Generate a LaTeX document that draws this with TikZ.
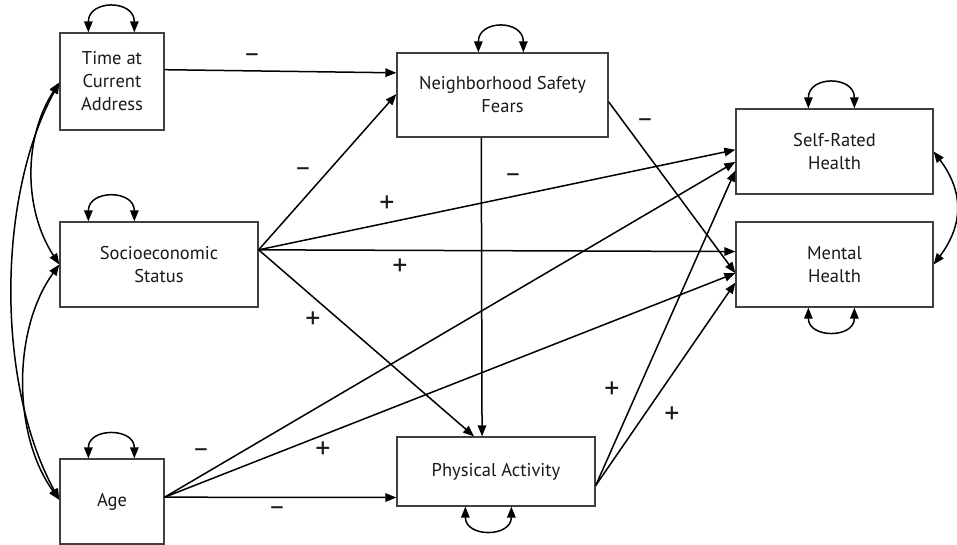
\documentclass[tikz,border=0pt]{standalone}
\usepackage{fontspec}
\setmainfont{PT Sans}
\usetikzlibrary{arrows.meta,calc}
\begin{document}
\begin{tikzpicture}[x=1pt,y=-1pt,
  box/.style={draw=black!75, line width=1.3pt, inner sep=0pt, align=center,
    font=\fontsize{18.5}{23}\selectfont, text=black!90},
  tip/.tip={Triangle[length=11pt,width=8.5pt]},
  arr/.style={-tip, line width=1.5pt},
  dbl/.style={tip-tip, line width=1.5pt},
  sgn/.style={font=\fontsize{30}{32}\selectfont, inner sep=0pt, text=black!90},
  msgn/.style={font=\fontsize{27}{30}\selectfont, inner sep=0pt, text=black!90}]
\useasboundingbox (0,0) rectangle (957,545);

% boxes
\node[box, minimum width=104pt, minimum height=97pt] (t) at (112,81.5) {Time at\\Current\\Address};
\node[box, minimum width=198pt, minimum height=85pt] (s) at (159,264.5) {Socioeconomic\\Status};
\node[box, minimum width=104pt, minimum height=85pt] (a) at (112,501.5) {Age};
\node[box, minimum width=211pt, minimum height=84pt] (n) at (502.5,95) {Neighborhood Safety\\Fears};
\node[box, minimum width=197pt, minimum height=85pt] (h) at (834.5,151.5) {Self-Rated\\Health};
\node[box, minimum width=197pt, minimum height=85pt] (m) at (834.5,264.5) {Mental\\Health};
\node[box, minimum width=198pt, minimum height=69pt] (p) at (496,471.5) {Physical Activity};

% self loops (variances)
\draw[dbl] ($(t.north west)+(29,0)$) .. controls +(0,-33) and +(0,-33) .. ($(t.north west)+(75,0)$);
\draw[dbl] ($(s.north west)+(29,0)$) .. controls +(0,-32) and +(0,-32) .. ($(s.north west)+(75,0)$);
\draw[dbl] ($(a.north west)+(29,0)$) .. controls +(0,-31) and +(0,-31) .. ($(a.north west)+(75,0)$);
\draw[dbl] ($(n.north west)+(82,0)$) .. controls +(0,-33) and +(0,-33) .. ($(n.north west)+(127,0)$);
\draw[dbl] ($(h.north west)+(73,0)$) .. controls +(0,-33) and +(0,-33) .. ($(h.north west)+(119,0)$);
\draw[dbl] ($(m.south west)+(73,0)$) .. controls +(0,31) and +(0,31) .. ($(m.south west)+(119,0)$);
\draw[dbl] ($(p.south west)+(69,0)$) .. controls +(0,31) and +(0,31) .. ($(p.south west)+(115,0)$);

% covariances
\coordinate (tl) at ($(t.north west)!0.51!(t.south west)$);
\coordinate (sl) at ($(s.north west)!0.5!(s.south west)$);
\coordinate (al) at ($(a.north west)!0.48!(a.south west)$);
\draw[dbl] (tl) .. controls +(-36,55) and +(-36,-55) .. (sl);
\draw[dbl] (sl) .. controls +(-47,65) and +(-47,-65) .. (al);
\draw[dbl] (tl) .. controls +(-63,115) and +(-63,-115) .. (al);
\draw[dbl] ($(h.north east)!0.5!(h.south east)$) .. controls +(30,40) and +(30,-40) .. ($(m.north east)!0.5!(m.south east)$);

% paths
\coordinate (se) at ($(s.north east)!0.33!(s.south east)$);
\coordinate (ae) at ($(a.north east)!0.45!(a.south east)$);
\coordinate (pe) at ($(p.north east)!0.70!(p.south east)$);
\draw[arr] ($(t.north east)!0.38!(t.south east)$) -- ($(n.north west)!0.24!(n.south west)$);
\draw[arr] (se) -- ($(n.north west)!0.49!(n.south west)$);
\draw[arr] (se) -- ($(h.north west)!0.48!(h.south west)$);
\draw[arr] (se) -- ($(m.north west)!0.35!(m.south west)$);
\draw[arr] (se) -- ($(p.north west)!0.39!(p.north east)$);
\draw[arr] ($(n.south west)!0.40!(n.south east)$) -- ($(p.north west)!0.43!(p.north east)$);
\draw[arr] ($(n.north east)!0.58!(n.south east)$) -- ($(m.north west)!0.60!(m.south west)$);
\draw[arr] (ae) -- ($(h.north west)!0.62!(h.south west)$);
\draw[arr] (ae) -- ($(m.north west)!0.60!(m.south west)$);
\draw[arr] (ae) -- ($(p.north west)!0.87!(p.south west)$);
\draw[arr] (pe) -- ($(h.north west)!0.72!(h.south west)$);
\draw[arr] (pe) -- ($(m.north west)!0.71!(m.south west)$);

% signs
\node[msgn] (l1) at (252,58) {–};
\node[msgn] (l2) at (303,172) {–};
\node[msgn] (l3) at (513,178) {–};
\node[msgn] (l4) at (645,123) {–};
\node[msgn] (l5) at (201,453) {–};
\node[msgn] (l6) at (277,511) {–};
\node[sgn] (l7) at (387,204) {+};
\node[sgn] (l8) at (400,267) {+};
\node[sgn] (l9) at (313,320) {+};
\node[sgn] (l10) at (323,450) {+};
\node[sgn] (l11) at (612,390) {+};
\node[sgn] (l12) at (672,415) {+};
\end{tikzpicture}
\end{document}
